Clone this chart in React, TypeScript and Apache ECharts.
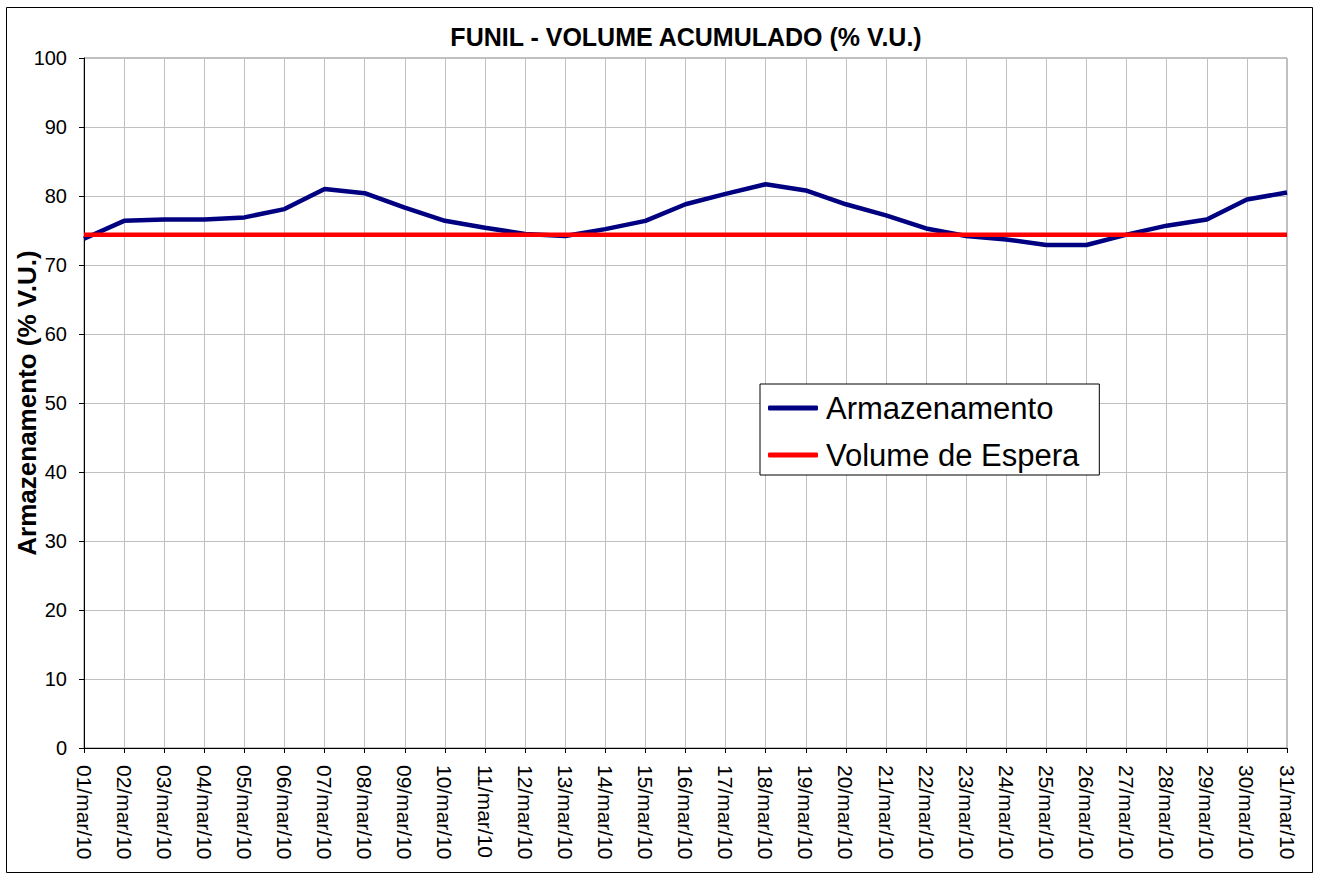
import React, { useEffect, useRef } from "react";
import * as echarts from "echarts";

const categories = [
  "01/mar/10", "02/mar/10", "03/mar/10", "04/mar/10", "05/mar/10", "06/mar/10", "07/mar/10", "08/mar/10",
  "09/mar/10", "10/mar/10", "11/mar/10", "12/mar/10", "13/mar/10", "14/mar/10", "15/mar/10", "16/mar/10",
  "17/mar/10", "18/mar/10", "19/mar/10", "20/mar/10", "21/mar/10", "22/mar/10", "23/mar/10", "24/mar/10",
  "25/mar/10", "26/mar/10", "27/mar/10", "28/mar/10", "29/mar/10", "30/mar/10", "31/mar/10",
];

const armazenamento = [
  73.8, 76.4, 76.6, 76.6, 76.9, 78.1, 81.0, 80.4, 78.3, 76.4, 75.4, 74.5, 74.2, 75.2, 76.4, 78.8,
  80.3, 81.7, 80.8, 78.8, 77.2, 75.3, 74.2, 73.7, 72.9, 72.9, 74.4, 75.7, 76.6, 79.5, 80.5,
];

const volumeEspera = [
  74.4, 74.4, 74.4, 74.4, 74.4, 74.4, 74.4, 74.4, 74.4, 74.4, 74.4, 74.4, 74.4, 74.4, 74.4, 74.4,
  74.4, 74.4, 74.4, 74.4, 74.4, 74.4, 74.4, 74.4, 74.4, 74.4, 74.4, 74.4, 74.4, 74.4, 74.4,
];

const FONT = "'Liberation Sans', Arial, sans-serif";

export default function App() {
  const ref = useRef<HTMLDivElement>(null);
  useEffect(() => {
    if (!ref.current) return;
    const chart = echarts.init(ref.current, null, { renderer: "svg" });
    chart.setOption({
      animation: false,
      backgroundColor: "#ffffff",
      textStyle: { fontFamily: FONT },
      title: {
        text: "FUNIL - VOLUME ACUMULADO (% V.U.)",
        left: 681,
        textAlign: "center",
        top: 19,
        textStyle: { fontFamily: FONT, fontSize: 25, fontWeight: "bold", color: "#000" },
      },
      graphic: [
        {
          type: "rect",
          shape: { x: 6.5, y: 7.5, width: 1306, height: 865 },
          style: { fill: "none", stroke: "#000", lineWidth: 1 },
          silent: true,
        },
      ],
      grid: {
        left: 84,
        top: 58,
        width: 1203,
        height: 690,
        show: true,
        borderColor: "#808080",
        borderWidth: 1,
        containLabel: false,
      },
      legend: {
        orient: "vertical",
        left: 760,
        top: 384,
        backgroundColor: "#fff",
        borderColor: "#000",
        borderWidth: 1,
        borderRadius: 0,
        padding: [7, 20, 3, 8],
        itemWidth: 50,
        itemHeight: 5,
        itemGap: 13,
        icon: "roundRect",
        textStyle: { fontFamily: FONT, fontSize: 31, color: "#000", lineHeight: 34, padding: [0, 0, 0, 3] },
        data: ["Armazenamento", "Volume de Espera"],
      },
      xAxis: {
        type: "category",
        data: categories,
        boundaryGap: false,
        axisLine: { lineStyle: { color: "#000", width: 1 } },
        axisTick: { show: true, length: 5, inside: false, alignWithLabel: true, lineStyle: { color: "#000" } },
        axisLabel: {
          rotate: -90,
          interval: 0,
          margin: 17,
          fontFamily: FONT,
          fontSize: 21,
          color: "#000",
        },
        splitLine: { show: true, lineStyle: { color: "#c0c0c0", width: 1 } },
      },
      yAxis: {
        type: "value",
        min: 0,
        max: 100,
        interval: 10,
        name: "Armazenamento (% V.U.)",
        nameLocation: "middle",
        nameRotate: 90,
        nameGap: 44,
        nameMoveOverlap: false,
        nameTextStyle: { fontFamily: FONT, fontSize: 26, fontWeight: "bold", color: "#000" },
        axisLine: { show: true, lineStyle: { color: "#000", width: 1 } },
        axisTick: { show: true, length: 5, inside: false, lineStyle: { color: "#000" } },
        axisLabel: { margin: 17, fontFamily: FONT, fontSize: 20, color: "#000" },
        splitLine: { show: true, lineStyle: { color: "#c0c0c0", width: 1 } },
      },
      series: [
        {
          name: "Armazenamento",
          type: "line",
          data: armazenamento,
          symbol: "none",
          color: "#000080",
          lineStyle: { color: "#000080", width: 4.5 },
          z: 3,
        },
        {
          name: "Volume de Espera",
          type: "line",
          data: volumeEspera,
          symbol: "none",
          color: "#ff0000",
          lineStyle: { color: "#ff0000", width: 4.5 },
          z: 4,
        },
      ],
    });
    return () => chart.dispose();
  }, []);
  return (
    <div
      ref={ref}
      style={{ position: "absolute", left: 0, top: 0, width: 1320, height: 879 }}
    />
  );
}
